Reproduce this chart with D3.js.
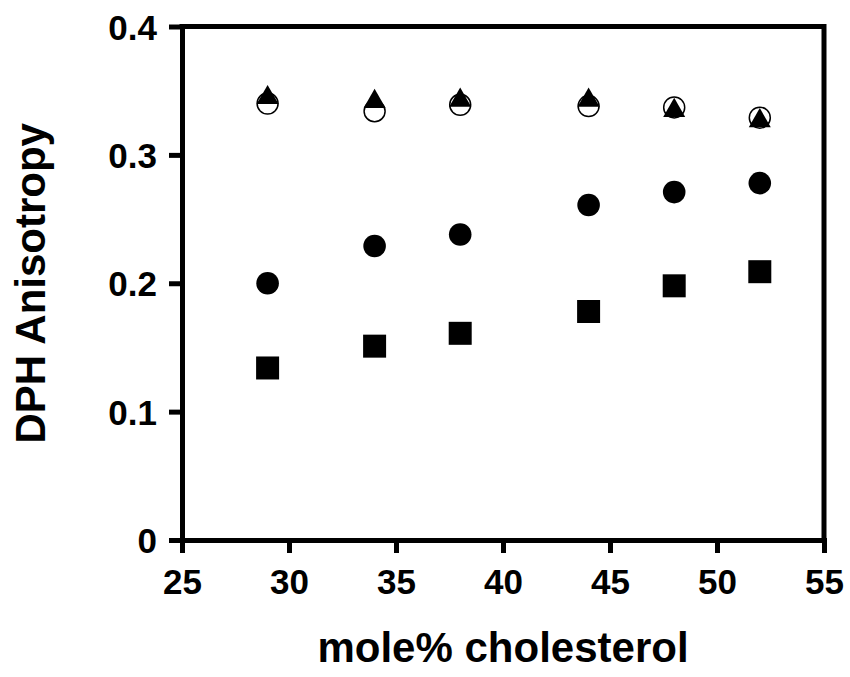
<!DOCTYPE html>
<html>
<head>
<meta charset="utf-8">
<script src="https://cdn.jsdelivr.net/npm/d3@7"></script>
<style>
  html, body { margin: 0; padding: 0; background: #fff; }
  svg { display: block; }
  text { font-family: "Liberation Sans", Arial, Helvetica, sans-serif; font-weight: bold; fill: #000; }
</style>
</head>
<body>
<svg id="chart"></svg>
<script>
const width = 850;
const height = 677;

// mole% cholesterol
const xValues = [29, 34, 38, 44, 48, 52];
// DPH anisotropy, one list per symbol
const openCircle = [0.340, 0.334, 0.339, 0.338, 0.337, 0.329];
const triangle = [0.347, 0.344, 0.345, 0.345, 0.337, 0.329];
const filledCircle = [0.200, 0.229, 0.238, 0.261, 0.271, 0.278];
const square = [0.134, 0.151, 0.161, 0.178, 0.198, 0.209];

const xTicks = [25, 30, 35, 40, 45, 50, 55];
const yTicks = [0, 0.1, 0.2, 0.3, 0.4];

const margin = { left: 182, right: 26, top: 26.5, bottom: 137 };

const svg = d3.select("#chart").attr("width", width).attr("height", height);

const x = d3.scaleLinear().domain([25, 55]).range([margin.left, width - margin.right]);
const y = d3.scaleLinear().domain([0, 0.4]).range([height - margin.bottom, margin.top]);

// triangle centred on its bounding box, like the original plot
const triangleType = {
  draw(ctx, size) {
    const w = Math.sqrt(size);
    const h = w * 0.87;
    ctx.moveTo(0, -h / 2);
    ctx.lineTo(w / 2, h / 2);
    ctx.lineTo(-w / 2, h / 2);
    ctx.closePath();
  },
};

// frame (top and right sides)
svg.append("path")
  .attr("d", `M${x(25)},${y(0.4)}H${x(55)}V${y(0)}`)
  .attr("fill", "none")
  .attr("stroke", "#000")
  .attr("stroke-width", 5)
  .attr("stroke-linecap", "square");

const yAxis = svg.append("g")
  .attr("transform", `translate(${x(25)},0)`)
  .call(d3.axisLeft(y).tickValues(yTicks).tickSize(13).tickSizeOuter(0)
    .tickFormat((d) => (d === 0 ? "0" : d3.format(".1f")(d))));

const xAxis = svg.append("g")
  .attr("transform", `translate(0,${y(0)})`)
  .call(d3.axisBottom(x).tickValues(xTicks).tickSize(13).tickSizeOuter(0));

[yAxis, xAxis].forEach((g) => {
  g.select(".domain").attr("stroke-width", 5).attr("stroke-linecap", "square");
  g.selectAll(".tick line").attr("stroke-width", 5);
  g.selectAll(".tick text").attr("font-size", 35).attr("font-family", null);
});
yAxis.selectAll(".tick text").attr("x", -25).attr("dy", "0.36em");
xAxis.selectAll(".tick text").attr("y", 29).attr("dy", "0.71em");

// open circles
svg.append("g")
  .selectAll("circle")
  .data(xValues)
  .join("circle")
  .attr("cx", (d) => x(d))
  .attr("cy", (d, i) => y(openCircle[i]))
  .attr("r", 10.5)
  .attr("fill", "#fff")
  .attr("stroke", "#000")
  .attr("stroke-width", 1.5);

// filled triangles on top
svg.append("g")
  .selectAll("path")
  .data(xValues)
  .join("path")
  .attr("transform", (d, i) => `translate(${x(d)},${y(triangle[i])})`)
  .attr("d", d3.symbol().type(triangleType).size(22 * 22))
  .attr("fill", "#000");

svg.append("g")
  .selectAll("circle")
  .data(xValues)
  .join("circle")
  .attr("cx", (d) => x(d))
  .attr("cy", (d, i) => y(filledCircle[i]))
  .attr("r", 11.3)
  .attr("fill", "#000");

svg.append("g")
  .selectAll("path")
  .data(xValues)
  .join("path")
  .attr("transform", (d, i) => `translate(${x(d)},${y(square[i])})`)
  .attr("d", d3.symbol().type(d3.symbolSquare).size(23 * 23))
  .attr("fill", "#000");

// axis titles
svg.append("text")
  .attr("x", (x(25) + x(55)) / 2)
  .attr("y", 662)
  .attr("text-anchor", "middle")
  .attr("font-size", 42)
  .text("mole% cholesterol");

svg.append("text")
  .attr("transform", `translate(45,${(y(0) + y(0.4)) / 2}) rotate(-90)`)
  .attr("text-anchor", "middle")
  .attr("font-size", 42)
  .text("DPH Anisotropy");
</script>
</body>
</html>
